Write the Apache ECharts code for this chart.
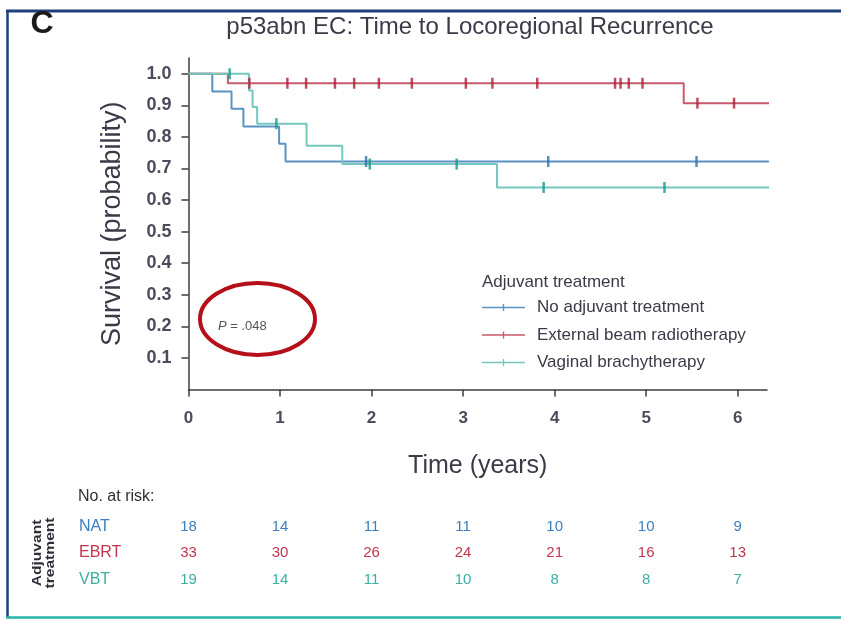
<!DOCTYPE html>
<html><head><meta charset="utf-8">
<script src="https://cdn.jsdelivr.net/npm/echarts@6/dist/echarts.min.js"></script>
<style>html,body{margin:0;padding:0;background:#fff}#chart{width:841px;height:619px}</style>
</head><body><div id="chart"></div>
<script>
const FONT = '"Liberation Sans Narrow", "Arial Narrow", "Liberation Sans", sans-serif';

// Groups
const groupNames = ['No adjuvant treatment', 'External beam radiotherapy', 'Vaginal brachytherapy'];
const groupCodes = ['NAT', 'EBRT', 'VBT'];

// Kaplan-Meier steps: [time in years, survival from that time on]
const natSteps  = [[0, 1], [0.26, 0.944], [0.47, 0.889], [0.60, 0.833], [0.99, 0.778], [1.06, 0.722], [6.8, 0.722]];
const ebrtSteps = [[0, 1], [0.43, 0.97], [5.41, 0.907], [6.8, 0.907]];
const vbtSteps  = [[0, 1], [0.66, 0.947], [0.70, 0.895], [0.75, 0.842], [1.29, 0.772], [1.68, 0.714], [3.37, 0.64], [6.8, 0.64]];

// Censoring times (years)
const natCensor  = [1.94, 3.93, 5.55];
const ebrtCensor = [0.665, 1.08, 1.285, 1.6, 1.81, 2.08, 2.44, 3.03, 3.32, 3.81, 4.66, 4.72, 4.81, 4.96, 5.56, 5.96];
const vbtCensor  = [0.45, 0.96, 1.98, 2.93, 3.88, 5.2];

// Axis ticks
const timeTicks = [0, 1, 2, 3, 4, 5, 6];
const survTicks = [0.1, 0.2, 0.3, 0.4, 0.5, 0.6, 0.7, 0.8, 0.9, 1.0];

// Number at risk at each time tick
const riskNAT  = [18, 14, 11, 11, 10, 10, 9];
const riskEBRT = [33, 30, 26, 24, 21, 16, 13];
const riskVBT  = [19, 14, 11, 10, 8, 8, 7];

const lineColors  = ['#5a92c2', '#c75a6c', '#74c8bd'];
const markColors  = ['#2c72aa', '#b01e3a', '#16978a'];
const labelColors = ['#3b7fc0', '#c0364e', '#3ab0a5'];

const stepsAll  = [natSteps, ebrtSteps, vbtSteps];
const censorAll = [natCensor, ebrtCensor, vbtCensor];
const riskAll   = [riskNAT, riskEBRT, riskVBT];

function survAt(steps, t) {
  let s = steps[0][1];
  for (const [x, y] of steps) if (x <= t) s = y;
  return s;
}

const series = [];
stepsAll.forEach((steps, i) => {
  series.push({
    name: groupNames[i], type: 'line', step: 'end', data: steps,
    showSymbol: false, clip: false, z: 2,
    lineStyle: { color: lineColors[i], width: 2 },
    itemStyle: { color: lineColors[i] },
    emphasis: { disabled: true }
  });
});
censorAll.forEach((times, i) => {
  series.push({
    name: groupCodes[i] + ' censored', type: 'scatter', clip: false, z: 3,
    symbol: 'rect', symbolSize: [2.5, 11],
    data: times.map(t => [t, survAt(stepsAll[i], t)]),
    itemStyle: { color: markColors[i] },
    emphasis: { disabled: true }
  });
});

const chart = echarts.init(document.getElementById('chart'), null, { renderer: 'canvas' });

const axisTextColor = '#4a4c5c';
chart.setOption({
  animation: false,
  backgroundColor: '#fff',
  grid: { left: 188.5, right: 74, top: 58, bottom: 229.5, containLabel: false },
  xAxis: {
    type: 'value', min: 0, max: 6.32,
    name: 'Time (years)', nameLocation: 'middle', nameGap: 64,
    nameTextStyle: { fontFamily: FONT, fontSize: 25, color: '#3a3a48' },
    axisLine: { lineStyle: { color: '#3c3c3c', width: 1.5 } },
    axisTick: { length: 7, lineStyle: { color: '#3c3c3c', width: 1.5 }, customValues: timeTicks },
    axisLabel: { customValues: timeTicks, margin: 20, fontFamily: FONT, fontSize: 17, fontWeight: 'bold', color: axisTextColor },
    splitLine: { show: false }
  },
  yAxis: {
    type: 'value', min: 0, max: 1.05,
    name: 'Survival (probability)', nameLocation: 'middle', nameGap: 62, nameRotate: 90,
    nameTextStyle: { fontFamily: FONT, fontSize: 27, color: '#3a3a48' },
    axisLine: { show: true, lineStyle: { color: '#3c3c3c', width: 1.5 } },
    axisTick: { show: true, length: 7, lineStyle: { color: '#3c3c3c', width: 1.5 }, customValues: survTicks },
    axisLabel: { customValues: survTicks, margin: 17, fontFamily: FONT, fontSize: 18, fontWeight: 'bold', color: axisTextColor,
      formatter: v => v.toFixed(1) },
    splitLine: { show: false }
  },
  legend: {
    data: groupNames, orient: 'vertical', left: 477, top: 294,
    itemWidth: 43, itemHeight: 10, itemGap: 10.5,
    icon: 'path://M0,4.2 L43,4.2 L43,5.8 L0,5.8 Z M20.8,1.5 L22.2,1.5 L22.2,8.5 L20.8,8.5 Z',
    textStyle: { fontFamily: FONT, fontSize: 17, color: '#3a3a48', padding: [0, 0, 0, 7] },
    selectedMode: false
  },
  series: series
});

// Annotations, frame and the number-at-risk table
const graphics = [
  { type: 'line', shape: { x1: 6, y1: 11, x2: 841, y2: 11 }, style: { stroke: '#1d3f7c', lineWidth: 3 } },
  { type: 'line', shape: { x1: 7.5, y1: 10, x2: 7.5, y2: 617 }, style: { stroke: '#1d3f7c', lineWidth: 2.5 } },
  { type: 'line', shape: { x1: 6, y1: 617.5, x2: 841, y2: 617.5 }, style: { stroke: '#27b3a8', lineWidth: 2.5 } },
  { type: 'text', x: 42, y: 24, style: { text: 'C', fontFamily: '"Liberation Sans", Arial, sans-serif', fontWeight: 'bold', fontSize: 32,
      fill: '#1a1a1a', textAlign: 'center', textVerticalAlign: 'middle' } },
  { type: 'text', x: 470, y: 27, style: { text: 'p53abn EC: Time to Locoregional Recurrence', fontFamily: FONT, fontSize: 24,
      fill: '#3a3a48', textAlign: 'center', textVerticalAlign: 'middle' } },
  { type: 'text', x: 482, y: 282, style: { text: 'Adjuvant treatment', fontFamily: FONT, fontSize: 17,
      fill: '#3a3a48', textAlign: 'left', textVerticalAlign: 'middle' } },
  { type: 'text', x: 218, y: 326, style: {
      text: '{i|P} = .048', fontFamily: FONT, fontSize: 13, fill: '#555',
      textAlign: 'left', textVerticalAlign: 'middle',
      rich: { i: { fontStyle: 'italic', fontFamily: FONT, fontSize: 13, fill: '#555' } } } },
  { type: 'ellipse', shape: { cx: 257.5, cy: 319, rx: 57.5, ry: 36 }, style: { fill: 'none', stroke: '#b50f1a', lineWidth: 4 } },
  { type: 'text', x: 78, y: 497, style: { text: 'No. at risk:', fontFamily: FONT, fontSize: 16,
      fill: '#2e2e38', textAlign: 'left', textVerticalAlign: 'middle' } },
  { type: 'text', x: 38, y: 553, rotation: Math.PI / 2, scaleX: 1.3, style: { text: 'Adjuvant', fontFamily: FONT, fontSize: 12, fontWeight: 'bold',
      fill: '#2e2e38', textAlign: 'center', textVerticalAlign: 'middle' } },
  { type: 'text', x: 51, y: 553, rotation: Math.PI / 2, scaleX: 1.3, style: { text: 'treatment', fontFamily: FONT, fontSize: 12, fontWeight: 'bold',
      fill: '#2e2e38', textAlign: 'center', textVerticalAlign: 'middle' } }
];
const rowY = [527, 553, 580];
groupCodes.forEach((code, i) => {
  graphics.push({ type: 'text', x: 79, y: rowY[i], style: { text: code, fontFamily: FONT, fontSize: 16,
    fill: labelColors[i], textAlign: 'left', textVerticalAlign: 'middle' } });
  riskAll[i].forEach((n, k) => {
    const px = chart.convertToPixel({ xAxisIndex: 0 }, timeTicks[k]);
    graphics.push({ type: 'text', x: px, y: rowY[i], style: { text: String(n), fontFamily: FONT, fontSize: 15,
      fill: labelColors[i], textAlign: 'center', textVerticalAlign: 'middle' } });
  });
});
chart.setOption({ graphic: graphics });
</script>
</body></html>
